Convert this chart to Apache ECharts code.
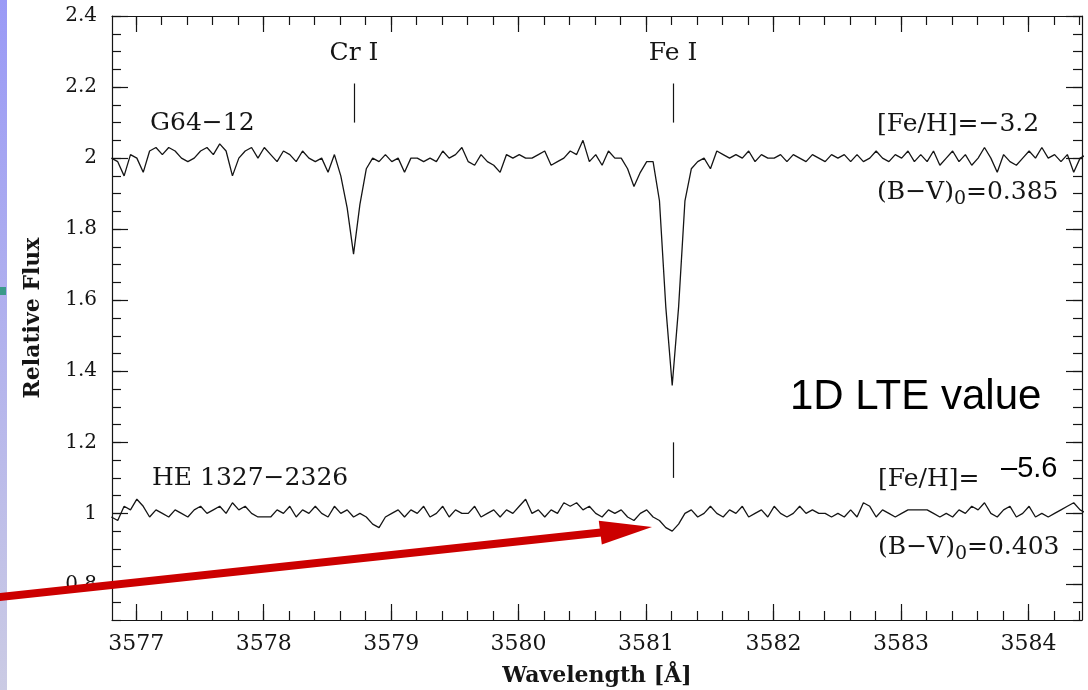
<!DOCTYPE html>
<html>
<head>
<meta charset="utf-8">
<script src="https://cdn.jsdelivr.net/npm/echarts@6/dist/echarts.min.js"></script>
<style>
  html, body { margin: 0; padding: 0; background: #ffffff; }
  #chart { width: 1088px; height: 690px; }
</style>
</head>
<body>
<div id="chart"></div>
<script>
// Spectra sampled on a uniform wavelength grid (Angstrom)
const lambdaStart = 3576.805;
const lambdaStep = 0.05;

// G64-12, [Fe/H] = -3.2 (continuum offset to 2.0)
const fluxG64 = [
  2.00, 1.99, 1.95, 2.01, 2.00, 1.96, 2.02, 2.03, 2.01, 2.03,
  2.02, 2.00, 1.99, 2.00, 2.02, 2.03, 2.01, 2.04, 2.02, 1.95,
  2.00, 2.02, 2.03, 2.00, 2.03, 2.01, 1.99, 2.02, 2.01, 1.99,
  2.02, 2.00, 1.99, 2.00, 1.96, 2.01, 1.95, 1.86, 1.73, 1.87,
  1.97, 2.00, 1.99, 2.01, 1.99, 2.00, 1.96, 2.00, 2.00, 1.99,
  2.00, 1.99, 2.02, 2.00, 2.01, 2.03, 1.99, 1.98, 2.01, 1.99,
  1.98, 1.96, 2.01, 2.00, 2.01, 2.00, 2.00, 2.01, 2.02, 1.98,
  1.99, 2.00, 2.02, 2.01, 2.05, 1.99, 2.01, 1.98, 2.02, 2.00,
  2.00, 1.97, 1.92, 1.96, 1.99, 1.99, 1.88, 1.58, 1.36, 1.58,
  1.88, 1.97, 1.99, 2.00, 1.97, 2.02, 2.01, 2.00, 2.01, 2.00,
  2.02, 1.99, 2.01, 2.00, 2.00, 2.01, 1.99, 2.01, 2.00, 1.99,
  2.01, 2.00, 1.99, 2.01, 2.00, 2.01, 1.99, 2.01, 1.99, 2.00,
  2.02, 2.00, 1.99, 2.01, 2.00, 2.02, 1.99, 2.01, 1.99, 2.02,
  1.98, 2.00, 2.02, 1.99, 2.01, 1.98, 2.00, 2.03, 2.00, 1.96,
  2.01, 1.99, 1.98, 2.00, 2.02, 2.00, 2.03, 2.00, 2.01, 1.99,
  2.01, 1.96, 2.00, 2.01
];

// HE 1327-2326, [Fe/H] = -5.6 (continuum at 1.0)
const fluxHE = [
  0.99, 0.98, 1.02, 1.01, 1.04, 1.02, 0.99, 1.01, 1.00, 0.99,
  1.01, 1.00, 0.99, 1.01, 1.02, 1.00, 1.01, 1.02, 1.00, 1.03,
  1.01, 1.02, 1.00, 0.99, 0.99, 0.99, 1.01, 1.00, 1.02, 0.99,
  1.01, 1.00, 1.02, 1.00, 0.99, 1.02, 1.00, 1.01, 0.99, 1.00,
  0.99, 0.97, 0.96, 0.99, 1.00, 1.01, 0.99, 1.01, 1.00, 1.02,
  0.99, 1.00, 1.02, 0.99, 1.01, 1.00, 1.00, 1.02, 0.99, 1.00,
  1.01, 0.99, 1.01, 1.00, 1.02, 1.04, 1.00, 1.01, 0.99, 1.01,
  1.00, 1.03, 1.02, 1.03, 1.01, 1.02, 1.00, 0.99, 1.01, 1.00,
  1.01, 0.99, 0.98, 1.00, 1.01, 0.99, 0.98, 0.96, 0.95, 0.97,
  1.00, 1.01, 0.99, 1.00, 1.02, 1.00, 0.99, 1.01, 1.00, 1.02,
  0.99, 1.00, 1.01, 0.99, 1.02, 1.00, 0.99, 1.00, 1.02, 1.00,
  1.01, 1.00, 1.00, 0.99, 1.00, 0.99, 1.01, 0.99, 1.03, 1.02,
  0.99, 1.01, 1.00, 0.99, 1.00, 1.01, 1.01, 1.01, 1.01, 1.00,
  0.99, 1.00, 0.99, 1.01, 1.00, 1.02, 1.01, 1.03, 1.00, 0.99,
  1.01, 1.02, 0.99, 1.00, 1.02, 0.99, 1.00, 0.99, 1.00, 1.01,
  1.02, 1.03, 1.01, 1.00
];

// Line identifications: wavelength and vertical extent of each marker
const lineIds = [
  { name: 'Cr I', lambda: 3578.71, from: 2.10, to: 2.21 },
  { name: 'Fe I', lambda: 3581.21, from: 2.10, to: 2.21 },
  { name: 'Fe I', lambda: 3581.21, from: 1.10, to: 1.20 }
];

// Axis ranges and ticks
const xRange = [3576.81, 3584.42];
const yRange = [0.7, 2.4];
const xMajor = [3577, 3578, 3579, 3580, 3581, 3582, 3583, 3584];
const yMajor = [0.8, 1.0, 1.2, 1.4, 1.6, 1.8, 2.0, 2.2, 2.4];

function steps(a, b, d) {
  const out = [];
  const n = Math.round((b - a) / d);
  for (let i = 0; i <= n; i++) out.push(Math.round((a + i * d) * 1000) / 1000);
  return out;
}
const xMinor = steps(3576.8, 3584.4, 0.2);
const yMinor = steps(0.7, 2.4, 0.05);

function toPairs(flux) {
  return flux.map((f, i) => [Math.round((lambdaStart + i * lambdaStep) * 1000) / 1000, f]);
}

const SERIF = "'DejaVu Serif', 'Liberation Serif', serif";
const INK = '#151515';
const MAJOR_LEN = 16, MINOR_LEN = 9;

function xAxisDef(position, major, withLabels) {
  return {
    type: 'value', position: position, min: xRange[0], max: xRange[1],
    axisLine: { show: major, lineStyle: { color: INK, width: 1.2 } },
    axisTick: { show: true, inside: true, length: major ? MAJOR_LEN : MINOR_LEN,
      customValues: major ? xMajor : xMinor, lineStyle: { color: INK, width: 1.2 } },
    axisLabel: withLabels ? { show: true, customValues: xMajor, margin: 13,
      fontFamily: SERIF, fontSize: 22, color: INK,
      formatter: v => String(Math.round(v)) } : { show: false },
    splitLine: { show: false },
    name: withLabels ? 'Wavelength [Å]' : '',
    nameLocation: 'middle', nameGap: 45,
    nameTextStyle: { fontFamily: SERIF, fontSize: 22, fontWeight: 'bold', color: INK }
  };
}
function yAxisDef(position, major, withLabels) {
  return {
    type: 'value', position: position, min: yRange[0], max: yRange[1],
    axisLine: { show: major, lineStyle: { color: INK, width: 1.2 } },
    axisTick: { show: true, inside: true, length: major ? MAJOR_LEN : MINOR_LEN,
      customValues: major ? yMajor : yMinor, lineStyle: { color: INK, width: 1.2 } },
    axisLabel: withLabels ? { show: true, customValues: yMajor, margin: 15,
      fontFamily: SERIF, fontSize: 20, color: INK,
      formatter: v => String(+v.toFixed(1)) } : { show: false },
    splitLine: { show: false },
    name: withLabels ? 'Relative Flux' : '',
    nameLocation: 'middle', nameGap: 68,
    nameTextStyle: { fontFamily: SERIF, fontSize: 22, fontWeight: 'bold', color: INK }
  };
}

const chart = echarts.init(document.getElementById('chart'), null, { renderer: 'canvas' });

const serifText = (text, x, y, size, extra) => ({
  type: 'text', z: 50, silent: true,
  style: Object.assign({ text: text, x: x, y: y, fill: INK, font: size + 'px ' + SERIF,
    textAlign: 'left', textVerticalAlign: 'middle' }, extra || {})
});
const subRich = { sub: { fontSize: 19, fontFamily: SERIF, fill: INK, padding: [14, 0, 0, 0] } };

chart.setOption({
  animation: false,
  backgroundColor: '#ffffff',
  grid: { left: 112, right: 6, top: 16, bottom: 70, containLabel: false, outerBoundsMode: 'none' },
  xAxis: [
    xAxisDef('bottom', true, true),
    xAxisDef('bottom', false, false),
    xAxisDef('top', true, false),
    xAxisDef('top', false, false)
  ],
  yAxis: [
    yAxisDef('left', true, true),
    yAxisDef('left', false, false),
    yAxisDef('right', true, false),
    yAxisDef('right', false, false)
  ],
  series: [
    {
      name: 'G64-12', type: 'line', xAxisIndex: 0, yAxisIndex: 0,
      data: toPairs(fluxG64), showSymbol: false, clip: true,
      lineStyle: { color: INK, width: 1.3 },
      markLine: {
        silent: true, symbol: ['none', 'none'], label: { show: false },
        lineStyle: { color: INK, width: 1.2, type: 'solid' },
        data: lineIds.map(l => [{ coord: [l.lambda, l.from] }, { coord: [l.lambda, l.to] }])
      }
    },
    {
      name: 'HE 1327-2326', type: 'line', xAxisIndex: 0, yAxisIndex: 0,
      data: toPairs(fluxHE), showSymbol: false, clip: true,
      lineStyle: { color: INK, width: 1.3 }
    }
  ],
  graphic: [
    // slide edge strip
    { type: 'rect', z: 40, silent: true, shape: { x: 0, y: 0, width: 7, height: 690 },
      style: { fill: new echarts.graphic.LinearGradient(0, 0, 0, 1, [
        { offset: 0, color: '#9a9af6' }, { offset: 1, color: '#cbcbe4' }]) } },
    { type: 'rect', z: 41, silent: true, shape: { x: 0, y: 287, width: 6, height: 8 },
      style: { fill: '#3a9a8a' } },

    // line identifications
    serifText('Cr I', 354, 53, 25, { textAlign: 'center' }),
    serifText('Fe I', 673, 53, 25, { textAlign: 'center' }),

    // star names
    serifText('G64\u221212', 150, 123, 25),
    serifText('HE 1327\u22122326', 152, 478, 25),

    // stellar parameters
    serifText('[Fe/H]=\u22123.2', 877, 124, 25),
    serifText('(B\u2212V){sub|0}=0.385', 877, 192, 25, { rich: subRich }),
    serifText('[Fe/H]=', 878, 479, 25),
    serifText('(B\u2212V){sub|0}=0.403', 878, 547, 25, { rich: subRich }),

    // overlay notes
    { type: 'text', z: 60, silent: true,
      style: { text: '1D LTE value', x: 790, y: 397, fill: '#000000',
        font: "42px 'Liberation Sans', Arial, sans-serif", textAlign: 'left', textVerticalAlign: 'middle' } },
    { type: 'text', z: 60, silent: true,
      style: { text: '\u20135.6', x: 1001, y: 469, fill: '#000000',
        font: "29px 'Liberation Sans', Arial, sans-serif", textAlign: 'left', textVerticalAlign: 'middle' } },

    // red arrow pointing at the weak Fe I line
    { type: 'line', z: 70, silent: true,
      shape: { x1: -4, y1: 597.4, x2: 601, y2: 532.6 },
      style: { stroke: '#cc0000', lineWidth: 8 } },
    { type: 'polygon', z: 70, silent: true,
      shape: { points: [[652, 527], [598.8, 520.8], [601.8, 544.4]] },
      style: { fill: '#cc0000' } }
  ]
});
</script>
</body>
</html>
